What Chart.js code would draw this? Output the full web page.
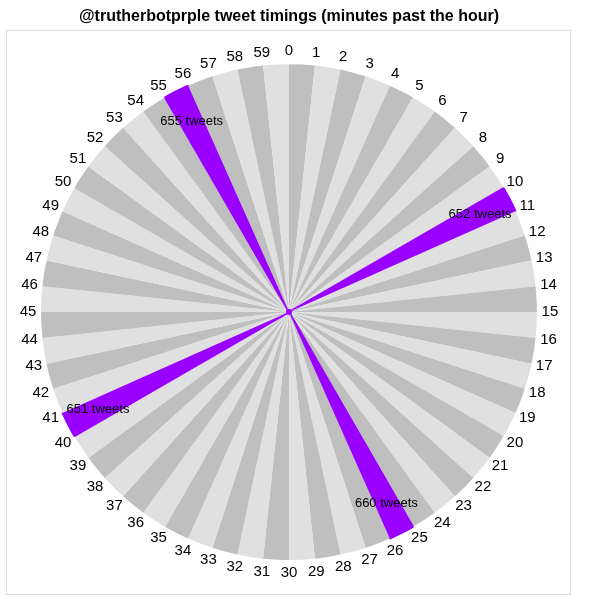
<!DOCTYPE html>
<html>
<head>
<meta charset="utf-8">
<script src="https://cdn.jsdelivr.net/npm/chart.js@4.4.1/dist/chart.umd.min.js"></script>
<style>
  html, body { margin: 0; padding: 0; background: #fff; }
  #wrap { width: 600px; height: 600px; }
</style>
</head>
<body>
<div id="wrap"><canvas id="clock-chart" width="600" height="600"></canvas></div>
<script>
// minutes past the hour, one slice each
var minutes = ['0', '1', '2', '3', '4', '5', '6', '7', '8', '9',
  '10', '11', '12', '13', '14', '15', '16', '17', '18', '19',
  '20', '21', '22', '23', '24', '25', '26', '27', '28', '29',
  '30', '31', '32', '33', '34', '35', '36', '37', '38', '39',
  '40', '41', '42', '43', '44', '45', '46', '47', '48', '49',
  '50', '51', '52', '53', '54', '55', '56', '57', '58', '59'];
// every slice has the same size
var sliceSize = [1, 1, 1, 1, 1, 1, 1, 1, 1, 1,
  1, 1, 1, 1, 1, 1, 1, 1, 1, 1,
  1, 1, 1, 1, 1, 1, 1, 1, 1, 1,
  1, 1, 1, 1, 1, 1, 1, 1, 1, 1,
  1, 1, 1, 1, 1, 1, 1, 1, 1, 1,
  1, 1, 1, 1, 1, 1, 1, 1, 1, 1];
// the busiest minutes and their tweet counts
var busyMinutes = [10, 25, 40, 55];
var busyTweets = [652, 660, 651, 655];

var dark = '#bfbfbf';
var light = '#e0e0e0';
var purple = '#9900ff';

var fills = minutes.map(function (m, i) {
  if (busyMinutes.indexOf(i) >= 0) return purple;
  return i % 2 === 0 ? dark : light;
});
var borders = minutes.map(function (m, i) {
  return busyMinutes.indexOf(i) >= 0 ? 2 : 0;
});

var labelPlugin = {
  id: 'clockLabels',
  beforeDraw: function (chart) {
    var c = chart.ctx;
    c.save();
    c.strokeStyle = '#dddddd';
    c.lineWidth = 1;
    c.strokeRect(6.5, 30.5, 564, 564);
    c.restore();
  },
  afterDatasetsDraw: function (chart) {
    var c = chart.ctx;
    var arcs = chart.getDatasetMeta(0).data;
    c.save();
    // little purple star where the busy slices meet
    c.fillStyle = purple;
    c.beginPath();
    c.arc(arcs[0].x, arcs[0].y, 3, 0, Math.PI * 2);
    c.fill();
    c.fillStyle = '#000';
    c.textAlign = 'center';
    c.textBaseline = 'middle';
    c.font = '15px "Liberation Sans", Arial, sans-serif';
    arcs.forEach(function (arc, i) {
      var p = arc.getProps(['x', 'y', 'startAngle', 'outerRadius']);
      var r = p.outerRadius + 13;
      c.fillText(minutes[i], p.x + r * Math.cos(p.startAngle), p.y + r * Math.sin(p.startAngle));
    });
    c.font = '13px "Liberation Sans", Arial, sans-serif';
    busyMinutes.forEach(function (m, k) {
      var p = arcs[m].getProps(['x', 'y', 'startAngle', 'endAngle', 'outerRadius']);
      var a = (p.startAngle + p.endAngle) / 2;
      var r = p.outerRadius * 0.865;
      c.fillText(busyTweets[k] + ' tweets', p.x + r * Math.cos(a), p.y + r * Math.sin(a));
    });
    c.restore();
  }
};

var ctx = document.querySelector('#clock-chart').getContext('2d');
var chart = new Chart(ctx, {
  type: 'pie',
  data: {
    labels: minutes,
    datasets: [{
      data: sliceSize,
      backgroundColor: fills,
      borderColor: purple,
      borderWidth: borders
    }]
  },
  options: {
    responsive: false,
    animation: false,
    layout: { padding: { left: 40, right: 62, top: 0, bottom: 39 } },
    plugins: {
      legend: { display: false },
      tooltip: { enabled: false },
      title: {
        display: true,
        text: '@trutherbotprple tweet timings (minutes past the hour)',
        color: '#000',
        font: { family: '"Liberation Sans", Arial, sans-serif', size: 16, weight: 'bold' },
        padding: { top: 7, bottom: 37 }
      }
    }
  },
  plugins: [labelPlugin]
});
</script>
</body>
</html>
